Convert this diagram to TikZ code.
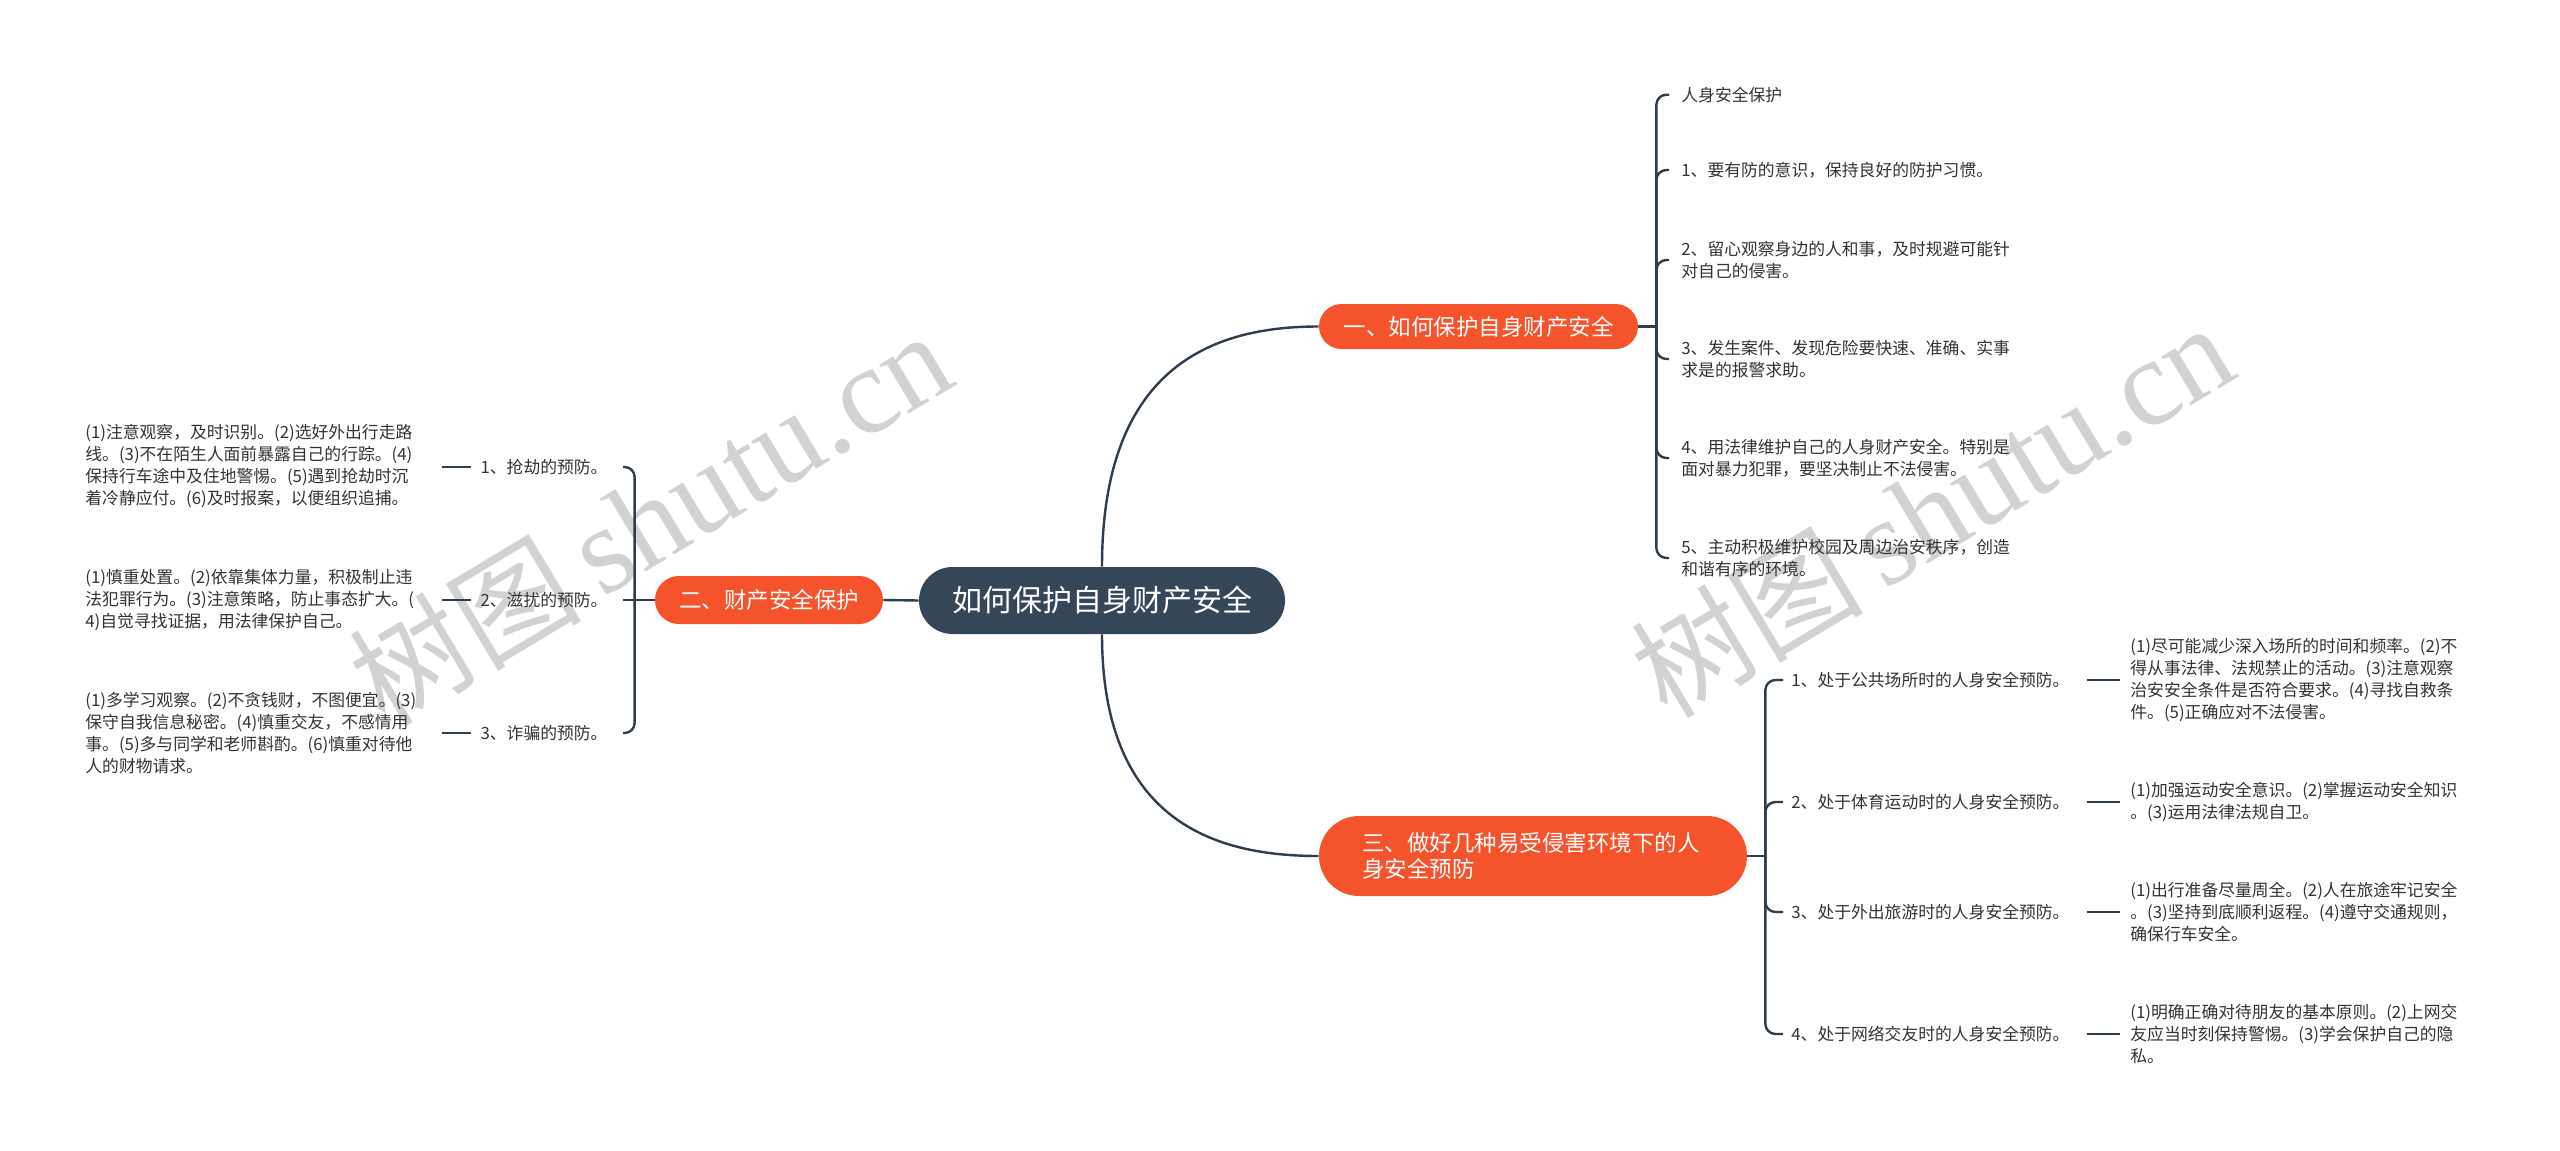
\documentclass[tikz,border=0pt]{standalone}
\usepackage{fontspec}
\setmainfont{Noto Sans CJK SC}
\newfontfamily\cjkwm{Noto Sans CJK SC}
\newfontfamily\wmserif{Liberation Serif}
\usetikzlibrary{calc}
\definecolor{orangeR}{HTML}{F4532C}
\definecolor{darkN}{HTML}{344658}
\definecolor{lineC}{HTML}{2E3E4E}
\definecolor{wmC}{HTML}{D2D2D2}
\definecolor{txtC}{HTML}{333333}
\begin{document}
\begin{tikzpicture}[x=0.5pt,y=-0.5pt]
\tikzset{
  conn/.style={draw=lineC, line width=1.2pt},
  hook/.style={conn, rounded corners=5pt},
  leaf/.style={inner sep=0pt, align=left, text=txtC, font=\fontsize{8.4pt}{11.1pt}\selectfont},
  centernode/.style={fill=darkN, text=white, rounded corners=16.75pt, minimum width=183pt, minimum height=33.5pt, inner sep=0pt, font=\fontsize{15pt}{18pt}\selectfont},
  mainbr/.style={fill=orangeR, text=white, inner sep=0pt, font=\fontsize{11.25pt}{13.4pt}\selectfont},
  wmark/.style={rotate=31, text=wmC, inner sep=0pt, font=\fontsize{62pt}{62pt}\selectfont}
}
\fill[white] (0,0) rectangle (2560,1151);
\useasboundingbox (0,0) rectangle (2560,1151);

% watermarks
\node[wmark] (wm1) at (650,518) {{\cjkwm\fontsize{58pt}{58pt}\selectfont 树图}\,{\wmserif shutu.cn}};
\node[wmark] (wm2) at (1932,510) {{\cjkwm\fontsize{58pt}{58pt}\selectfont 树图}\,{\wmserif shutu.cn}};

% main nodes
\node[centernode] (c) at (1102,600.5) {如何保护自身财产安全};
\node[mainbr, minimum width=159.5pt, minimum height=22.5pt, rounded corners=11.25pt] (b1) at (1478.5,326.5) {一、如何保护自身财产安全};
\node[mainbr, minimum width=114pt, minimum height=24pt, rounded corners=12pt] (b2) at (769,600) {二、财产安全保护};
\node[mainbr, minimum width=214pt, minimum height=40pt, rounded corners=20pt, text width=171pt, align=left] (b3) at (1533,856) {三、做好几种易受侵害环境下的人\\身安全预防};

\draw[conn] (c.north) .. controls ($(c.north)+(0,-205)$) and ($(b1.west)+(-100,0)$) .. (b1.west);
\draw[conn] (c.south) .. controls ($(c.south)+(0,190)$) and ($(b3.west)+(-100,0)$) .. (b3.west);
\draw[conn] (c.west) -- (b2.east);

% branch 1 leaves
\node[leaf, anchor=west] (l0) at (1681,94.7) {人身安全保护};
\node[leaf, anchor=west] (l1) at (1681,170) {1、要有防的意识，保持良好的防护习惯。};
\node[leaf, anchor=west] (l2) at (1681,260) {2、留心观察身边的人和事，及时规避可能针\\对自己的侵害。};
\node[leaf, anchor=west] (l3) at (1681,359) {3、发生案件、发现危险要快速、准确、实事\\求是的报警求助。};
\node[leaf, anchor=west] (l4) at (1681,458) {4、用法律维护自己的人身财产安全。特别是\\面对暴力犯罪，要坚决制止不法侵害。};
\node[leaf, anchor=west] (l5) at (1681,558) {5、主动积极维护校园及周边治安秩序，创造\\和谐有序的环境。};
\coordinate (t1) at ($(b1.east)+(18,0)$);
\draw[conn] (b1.east) -- (t1);
\foreach \n in {l0,l1,l2,l3,l4,l5}{
  \draw[hook] (t1) |- ($(\n.west)+(-12,0)$);
}

% branch 2 (left)
\node[leaf, anchor=east, text width=61.5pt, align=right] (s21) at (604,467) {1、抢劫的预防。};
\node[leaf, anchor=east, text width=61.5pt, align=right] (s22) at (604,600) {2、滋扰的预防。};
\node[leaf, anchor=east, text width=61.5pt, align=right] (s23) at (604,733) {3、诈骗的预防。};
\node[leaf, anchor=west, text width=169.5pt] (d21) at (85,466) {(1)注意观察，及时识别。(2)选好外出行走路\\线。(3)不在陌生人面前暴露自己的行踪。(4)\\保持行车途中及住地警惕。(5)遇到抢劫时沉\\着冷静应付。(6)及时报案，以便组织追捕。};
\node[leaf, anchor=west, text width=169.5pt] (d22) at (85,600) {(1)慎重处置。(2)依靠集体力量，积极制止违\\法犯罪行为。(3)注意策略，防止事态扩大。(\\4)自觉寻找证据，用法律保护自己。};
\node[leaf, anchor=west, text width=169.5pt] (d23) at (85,733) {(1)多学习观察。(2)不贪钱财，不图便宜。(3)\\保守自我信息秘密。(4)慎重交友，不感情用\\事。(5)多与同学和老师斟酌。(6)慎重对待他\\人的财物请求。};
\coordinate (t2) at ($(b2.west)+(-20,0)$);
\draw[conn] (b2.west) -- (t2);
\draw[hook] (t2) |- ($(s21.east)+(19,0)$);
\draw[conn] (t2) -- ($(s22.east)+(19,0)$);
\draw[hook] (t2) |- ($(s23.east)+(19,0)$);
\foreach \s/\d in {s21/d21,s22/d22,s23/d23}{
  \draw[conn] ($(\d.east |- \s.west)+(17,0)$) -- ($(\s.west)+(-9,0)$);
}

% branch 3
\node[leaf, anchor=west] (s31) at (1791,680) {1、处于公共场所时的人身安全预防。};
\node[leaf, anchor=west] (s32) at (1791,802) {2、处于体育运动时的人身安全预防。};
\node[leaf, anchor=west] (s33) at (1791,912) {3、处于外出旅游时的人身安全预防。};
\node[leaf, anchor=west] (s34) at (1791,1034) {4、处于网络交友时的人身安全预防。};
\node[leaf, anchor=west] (d31) at (2130,680) {(1)尽可能减少深入场所的时间和频率。(2)不\\得从事法律、法规禁止的活动。(3)注意观察\\治安安全条件是否符合要求。(4)寻找自救条\\件。(5)正确应对不法侵害。};
\node[leaf, anchor=west] (d32) at (2130,802) {(1)加强运动安全意识。(2)掌握运动安全知识\\。(3)运用法律法规自卫。};
\node[leaf, anchor=west] (d33) at (2130,912) {(1)出行准备尽量周全。(2)人在旅途牢记安全\\。(3)坚持到底顺利返程。(4)遵守交通规则，\\确保行车安全。};
\node[leaf, anchor=west] (d34) at (2130,1034) {(1)明确正确对待朋友的基本原则。(2)上网交\\友应当时刻保持警惕。(3)学会保护自己的隐\\私。};
\coordinate (t3) at ($(b3.east)+(18,0)$);
\draw[conn] (b3.east) -- (t3);
\foreach \s/\d in {s31/d31,s32/d32,s33/d33,s34/d34}{
  \draw[hook] (t3) |- ($(\s.west)+(-8,0)$);
  \draw[conn] ($(\s.east)+(17,0)$) -- ($(\d.west |- \s.east)+(-10,0)$);
}
\end{tikzpicture}
\end{document}
